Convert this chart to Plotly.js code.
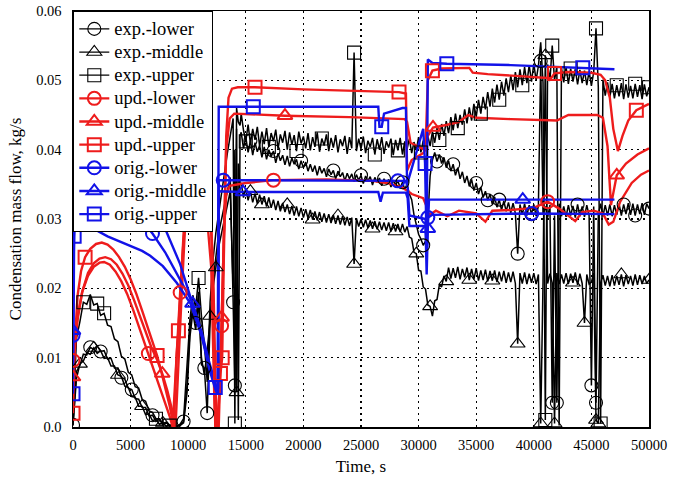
<!DOCTYPE html>
<html><head><meta charset="utf-8">
<script src="https://cdn.plot.ly/plotly-3.0.1.min.js"></script>
<style>html,body{margin:0;padding:0;background:#fff}#chart{width:679px;height:480px}</style>
</head><body><div id="chart"></div><script>
// ---------- experimental data (shared time base) ----------
const tExp = [
 0,300,600,900,1200,1500,1800,2100,2400,2700,3000,3300,3600,3900,4200,4500,4800,5100,5400,5700,6000,6300,6600,6900,7200,7500,7800,8100,8400,8700,9000,9300,9600,
 9900,10150,10400,10650,10900,11150,11400,11650,11900,12150,12400,12650,12900,13150,13400,13650,13900,14050,14200,14350,14500,
 14600,14800,15000,15200,15400,15600,15800,16000,16200,16400,
 16600,16800,17000,17200,17400,17600,17800,18000,18200,18400,
 18600,18800,19000,19200,19400,19600,19800,20000,20200,20400,
 20600,20800,21000,21200,21400,21600,21800,22000,22200,22400,
 22600,22800,23000,23200,23400,23600,23800,24000,24200,24400,
 24600,24800,25000,25200,25400,25600,25800,26000,26200,26400,
 26600,26800,27000,27200,27400,27600,27800,28000,28200,28400,
 28600,28800,29000,29200,29400,29600,29800,30000,30200,30400,
 30600,30800,31000,31200,31400,31600,31800,32000,32200,32400,
 32600,32800,33000,33200,33400,33600,33800,34000,34200,34400,
 34600,34800,35000,35200,35400,35600,35800,36000,36200,36400,
 36600,36800,37000,37200,37400,37600,37800,38000,38200,38400,
 38600,38800,39000,39200,39400,39600,39800,40000,40200,40400,
 40600,40800,41000,41200,41400,41600,41800,42000,42200,42400,
 42600,42800,43000,43200,43400,43600,43800,44000,44200,44400,
 44600,44800,45000,45200,45400,45600,45800,46000,46200,46400,
 46600,46800,47000,47200,47400,47600,47800,48000,48200,48400,
 48600,48800,49000,49200,49400,49600,49800,50000];
const expUpper = [
 0.0005,0.0128,0.0152,0.0180,0.0177,0.0191,0.0176,0.0178,0.0161,0.0164,0.0147,0.0145,0.0127,0.0123,0.0102,0.0098,0.0079,0.0075,0.0058,0.0056,0.0040,0.0037,0.0023,0.0021,0.0012,0.0012,0.0005,0.0007,0.0002,0.0004,0.0001,0.0004,0.0012,
 0.0100,0.0155,0.0190,0.0172,0.0215,0.0160,0.0120,0.0065,0.0180,0.0240,0.0280,0.0310,0.0340,0.0370,0.0395,0.0420,0.0445,0.0005,0.0460,0.0440,0.0435,
 0.0452,0.0428,0.0412,0.0436,0.0409,0.0430,0.0414,0.0433,0.0405,0.0426,
 0.0408,0.0431,0.0404,0.0424,0.0412,0.0429,0.0401,0.0422,0.0410,0.0427,
 0.0400,0.0425,0.0407,0.0421,0.0398,0.0426,0.0409,0.0419,0.0402,0.0424,
 0.0399,0.0418,0.0404,0.0425,0.0397,0.0416,0.0406,0.0422,0.0398,0.0417,
 0.0403,0.0421,0.0396,0.0415,0.0405,0.0420,0.0394,0.0418,0.0402,0.0540,
 0.0398,0.0416,0.0401,0.0419,0.0395,0.0413,0.0404,0.0417,0.0393,0.0415,
 0.0400,0.0418,0.0394,0.0412,0.0403,0.0416,0.0392,0.0414,0.0399,0.0417,
 0.0393,0.0412,0.0401,0.0416,0.0395,0.0411,0.0399,0.0418,0.0396,0.0413,
 0.0402,0.0420,0.0405,0.0426,0.0410,0.0431,0.0414,0.0437,0.0420,0.0441,
 0.0424,0.0447,0.0428,0.0452,0.0431,0.0450,0.0436,0.0458,0.0438,0.0461,
 0.0442,0.0466,0.0447,0.0472,0.0452,0.0476,0.0458,0.0483,0.0462,0.0488,
 0.0468,0.0494,0.0472,0.0498,0.0478,0.0503,0.0483,0.0507,0.0486,0.0512,
 0.0490,0.0516,0.0493,0.0519,0.0496,0.0522,0.0498,0.0524,0.0500,0.0521,
 0.0555,0.0497,0.0010,0.0523,0.0499,0.0550,0.0500,0.0520,0.0002,0.0518,
 0.0497,0.0519,0.0495,0.0517,0.0498,0.0516,0.0494,0.0515,0.0496,0.0514,
 0.0493,0.0513,0.0492,0.0512,0.0575,0.0490,0.0005,0.0501,0.0478,0.0497,
 0.0476,0.0495,0.0474,0.0493,0.0477,0.0496,0.0473,0.0494,0.0475,0.0492,
 0.0474,0.0495,0.0476,0.0493,0.0473,0.0494,0.0477,0.0490];
const expLower = [
 0.0003,0.0080,0.0089,0.0105,0.0104,0.0115,0.0112,0.0117,0.0109,0.0110,0.0098,0.0099,0.0085,0.0085,0.0071,0.0069,0.0056,0.0054,0.0041,0.0040,0.0028,0.0028,0.0016,0.0017,0.0008,0.0011,0.0003,0.0006,0.0001,0.0003,0.0000,0.0003,0.0008,
 0.0060,0.0140,0.0175,0.0150,0.0195,0.0090,0.0085,0.0020,0.0150,0.0210,0.0250,0.0280,0.0300,0.0320,0.0340,0.0360,0.0180,0.0060,0.0430,0.0010,0.0420,
 0.0425,0.0402,0.0418,0.0396,0.0413,0.0392,0.0410,0.0397,0.0406,0.0389,
 0.0404,0.0386,0.0400,0.0390,0.0398,0.0381,0.0395,0.0384,0.0392,0.0378,
 0.0391,0.0376,0.0388,0.0379,0.0386,0.0372,0.0384,0.0374,0.0382,0.0369,
 0.0379,0.0368,0.0377,0.0363,0.0376,0.0366,0.0373,0.0361,0.0372,0.0364,
 0.0370,0.0358,0.0369,0.0361,0.0367,0.0355,0.0366,0.0358,0.0365,0.0354,
 0.0364,0.0356,0.0363,0.0351,0.0362,0.0355,0.0361,0.0349,0.0360,0.0353,
 0.0359,0.0348,0.0358,0.0351,0.0357,0.0346,0.0356,0.0349,0.0355,0.0345,
 0.0353,0.0343,0.0350,0.0336,0.0328,0.0306,0.0292,0.0278,0.0271,0.0262,
 0.0268,0.0300,0.0362,0.0385,0.0396,0.0383,0.0393,0.0380,0.0389,0.0374,
 0.0384,0.0369,0.0379,0.0363,0.0374,0.0358,0.0368,0.0352,0.0362,0.0347,
 0.0357,0.0341,0.0352,0.0336,0.0346,0.0331,0.0340,0.0327,0.0336,0.0321,
 0.0332,0.0317,0.0328,0.0313,0.0326,0.0311,0.0324,0.0309,0.0323,0.0308,
 0.0250,0.0321,0.0306,0.0322,0.0305,0.0320,0.0307,0.0321,0.0304,0.0319,
 0.0528,0.0306,0.0318,0.0302,0.0320,0.0035,0.0305,0.0035,0.0322,0.0304,
 0.0318,0.0303,0.0320,0.0305,0.0319,0.0302,0.0321,0.0304,0.0318,0.0303,
 0.0320,0.0305,0.0060,0.0318,0.0035,0.0306,0.0322,0.0304,0.0320,0.0305,
 0.0321,0.0304,0.0320,0.0306,0.0322,0.0305,0.0321,0.0307,0.0323,0.0306,
 0.0322,0.0305,0.0321,0.0307,0.0323,0.0306,0.0322,0.0315];
const expMiddle = [
 0.0002,0.0070,0.0091,0.0095,0.0107,0.0105,0.0114,0.0106,0.0110,0.0099,0.0100,0.0088,0.0088,0.0075,0.0073,0.0059,0.0057,0.0044,0.0043,0.0030,0.0030,0.0018,0.0019,0.0009,0.0011,0.0004,0.0006,0.0001,0.0003,0.0000,0.0002,0.0002,0.0006,
 0.0050,0.0130,0.0165,0.0140,0.0180,0.0100,0.0075,0.0110,0.0160,0.0200,0.0230,0.0260,0.0280,0.0300,0.0320,0.0340,0.0200,0.0400,0.0050,0.0380,0.0350,
 0.0352,0.0331,0.0344,0.0327,0.0340,0.0324,0.0337,0.0322,0.0335,0.0321,
 0.0333,0.0318,0.0331,0.0316,0.0328,0.0313,0.0326,0.0311,0.0323,0.0310,
 0.0321,0.0307,0.0319,0.0305,0.0318,0.0304,0.0316,0.0302,0.0314,0.0301,
 0.0313,0.0299,0.0311,0.0298,0.0310,0.0296,0.0308,0.0295,0.0307,0.0294,
 0.0306,0.0293,0.0305,0.0292,0.0304,0.0291,0.0303,0.0290,0.0302,0.0235,
 0.0301,0.0289,0.0300,0.0288,0.0299,0.0287,0.0298,0.0286,0.0297,0.0285,
 0.0296,0.0284,0.0295,0.0283,0.0295,0.0282,0.0294,0.0282,0.0293,0.0281,
 0.0293,0.0281,0.0289,0.0274,0.0272,0.0252,0.0250,0.0226,0.0225,0.0202,
 0.0199,0.0176,0.0174,0.0160,0.0182,0.0184,0.0205,0.0202,0.0218,0.0210,
 0.0230,0.0214,0.0229,0.0215,0.0231,0.0213,0.0228,0.0216,0.0230,0.0212,
 0.0228,0.0213,0.0229,0.0211,0.0226,0.0212,0.0227,0.0210,0.0225,0.0211,
 0.0226,0.0209,0.0224,0.0210,0.0225,0.0208,0.0223,0.0209,0.0224,0.0207,
 0.0120,0.0222,0.0207,0.0223,0.0206,0.0221,0.0208,0.0222,0.0206,0.0220,
 0.0005,0.0210,0.0536,0.0207,0.0221,0.0208,0.0005,0.0222,0.0206,0.0220,
 0.0207,0.0222,0.0206,0.0221,0.0208,0.0223,0.0205,0.0221,0.0207,0.0150,
 0.0220,0.0206,0.0209,0.0222,0.0010,0.0005,0.0208,0.0219,0.0204,0.0218,
 0.0203,0.0219,0.0204,0.0218,0.0205,0.0220,0.0203,0.0219,0.0206,0.0218,
 0.0204,0.0220,0.0205,0.0219,0.0206,0.0218,0.0207,0.0212];
const expLowerMarks  = [0,5,8,14,17,23,32,36,39,40,49,50,58,68,80,94,106,116,124,133,139,146,156,161,166,174,180,184,189,191,200,206,208,220,225,231];
const expMiddleMarks = [2,6,13,20,26,41,43,51,58,63,74,85,96,103,111,121,130,136,143,153,163,174,184,186,190,198,203,208,209,219,231];
const expUpperMarks  = [3,7,9,24,28,37,50,56,66,78,89,103,112,122,132,140,148,158,166,176,186,189,197,208,210,217,225,231];

// ---------- updated model ----------
const updUpperT = [0,150,400,700,1050,1500,2000,2500,3000,3500,4000,4500,5000,5500,6000,6500,7000,7300,7600,8000,8400,8750,9000,9150,9400,9700,10000,11000,11800,12100,12350,12550,12800,12950,13100,13300,13500,13800,14300,15800,20000,24000,28300,28900,29000,29400,30400,30600,30700,30800,31200,32000,34400,34700,36000,38000,40000,41500,41800,43000,45000,45800,46200,46600,46900,47300,47700,48200,48900,50000];
const updUpperV = [0.0020,0.0120,0.0190,0.0225,0.0245,0.0257,0.0264,0.0266,0.0263,0.0256,0.0245,0.0231,0.0213,0.0192,0.0168,0.0143,0.0120,0.0103,0.0084,0.0058,0.0030,0.0000,0.0105,0.0139,0.0220,0.0310,0.0360,0.0400,0.0380,0.0250,0.0000,0.0000,0.0077,0.0100,0.0250,0.0420,0.0475,0.0488,0.0490,0.0490,0.0487,0.0485,0.0483,0.0481,0.0370,0.0385,0.0395,0.0400,0.0450,0.0500,0.0514,0.0517,0.0518,0.0511,0.0509,0.0507,0.0504,0.0503,0.0510,0.0512,0.0511,0.0508,0.0500,0.0475,0.0430,0.0398,0.0420,0.0442,0.0457,0.0466];
const updUpperMarks = [0,4,17,23,32,33,39,42,50,58,68];
const updMiddleT = [0,150,400,800,1300,1800,2300,2800,3300,3800,4300,4800,5300,5800,6300,6800,7300,7750,8200,8600,8900,9100,9400,9700,10000,11000,11800,12200,12450,12650,12900,13100,13300,13600,14000,18400,24000,28800,29000,29300,30500,30800,31250,32500,33500,34300,35000,38000,42000,43000,45500,46000,46400,46700,47200,48000,49000,50000];
const updMiddleV = [0.0072,0.0110,0.0155,0.0195,0.0222,0.0236,0.0243,0.0245,0.0242,0.0234,0.0221,0.0204,0.0183,0.0160,0.0136,0.0115,0.0097,0.0077,0.0052,0.0025,0.0000,0.0080,0.0180,0.0280,0.0340,0.0380,0.0360,0.0200,0.0000,0.0000,0.0158,0.0300,0.0400,0.0445,0.0452,0.0449,0.0447,0.0444,0.0440,0.0410,0.0400,0.0420,0.0432,0.0436,0.0440,0.0450,0.0446,0.0444,0.0442,0.0450,0.0450,0.0446,0.0405,0.0320,0.0363,0.0380,0.0393,0.0402];
const updMiddleMarks = [0,17,30,35,42,54];
const updLowerT = [0,150,400,800,1300,1800,2300,2700,3200,3700,4200,4700,5200,5700,6100,6540,7000,7500,8000,8400,8650,8900,9300,9600,9900,10500,11500,12000,12300,12500,12700,12900,13100,13300,13600,15000,17400,22000,26000,27500,28500,29000,29400,30400,30700,30900,31500,32500,33500,35000,35800,36400,38000,40000,41200,42200,43000,43600,44200,45200,46000,46500,46900,47500,48500,49300,50000];
const updLowerV = [0.0096,0.0125,0.0160,0.0195,0.0218,0.0231,0.0237,0.0238,0.0234,0.0224,0.0210,0.0192,0.0170,0.0146,0.0126,0.0106,0.0085,0.0060,0.0035,0.0015,0.0000,0.0080,0.0194,0.0270,0.0320,0.0345,0.0330,0.0230,0.0020,0.0000,0.0050,0.0146,0.0280,0.0335,0.0348,0.0352,0.0356,0.0357,0.0355,0.0351,0.0346,0.0341,0.0336,0.0330,0.0318,0.0305,0.0312,0.0304,0.0312,0.0308,0.0296,0.0312,0.0313,0.0316,0.0325,0.0315,0.0305,0.0297,0.0310,0.0312,0.0308,0.0292,0.0296,0.0325,0.0352,0.0364,0.0370];
const updLowerMarks = [0,15,22,31,36,54];

// ---------- original model ----------
const origUpperT = [0,100,250,600,1200,1800,3000,4500,6000,6700,7800,9000,10200,11200,11800,12350,12550,12600,12650,15650,26500,26600,26800,27000,28600,28900,29000,30400,30560,30700,30800,31200,32450,38000,44250,47000];
const origUpperV = [0.0048,0.0275,0.0330,0.0320,0.0300,0.0286,0.0275,0.0264,0.0254,0.0247,0.0232,0.0208,0.0178,0.0130,0.0090,0.0057,0.0050,0.0300,0.0462,0.0462,0.0462,0.0433,0.0433,0.0452,0.0460,0.0460,0.0350,0.0430,0.0380,0.0260,0.0530,0.0525,0.0524,0.0522,0.0518,0.0516];
const origUpperMarks = [0,1,15,19,22,28,32,34];
const origLowerT = [0,100,250,700,1500,3000,4500,6000,6900,8000,9200,10360,11200,11800,12400,12600,12650,13040,28200,28900,29050,29200,30600,30700,30800,31200,39820,47000];
const origLowerV = [0.0132,0.0300,0.0380,0.0390,0.0380,0.0355,0.0330,0.0298,0.0279,0.0252,0.0215,0.0180,0.0135,0.0095,0.0060,0.0055,0.0356,0.0356,0.0355,0.0355,0.0345,0.0305,0.0300,0.0250,0.0302,0.0306,0.0308,0.0307];
const origLowerMarks = [0,8,17,18,24,26];
const origMiddleT = [0,100,250,800,2000,4000,6000,8000,9300,10370,11200,11800,12400,12600,12650,14750,26500,26700,26900,28900,29050,29200,30600,30700,30800,30900,39040,47000];
const origMiddleV = [0.0139,0.0310,0.0400,0.0420,0.0400,0.0370,0.0335,0.0286,0.0235,0.0178,0.0130,0.0085,0.0052,0.0048,0.0340,0.0339,0.0339,0.0325,0.0338,0.0338,0.0330,0.0290,0.0290,0.0220,0.0286,0.0328,0.0328,0.0328];
const origMiddleMarks = [0,9,15,24,26];

// ---------- axes ----------
const xTicks = [0,5000,10000,15000,20000,25000,30000,35000,40000,45000,50000];
const xTickText = ['0','5000','10000','15000','20000','25000','30000','35000','40000','45000','50000'];
const yTicks = [0,0.01,0.02,0.03,0.04,0.05,0.06];
const yTickText = ['0.0','0.01','0.02','0.03','0.04','0.05','0.06'];

const BLACK = '#000000', RED = 'rgb(238,28,28)', BLUE = 'rgb(18,18,232)';

function lineTrace(x, y, color, w) {
  return {x: x, y: y, type: 'scatter', mode: 'lines', line: {color: color, width: w}, showlegend: false, hoverinfo: 'skip'};
}
function markTrace(name, x, y, idx, color, symbol, lw, ms, mlw) {
  const mx = [], my = [];
  idx.forEach(function (i) { mx.push(x[i], null); my.push(y[i], null); });
  return {x: mx, y: my, type: 'scatter', mode: 'lines+markers',
    name: '<span style="font-size:18.5px">' + name + '</span>', connectgaps: false,
    line: {color: color, width: lw},
    marker: {symbol: symbol, size: ms, color: color, line: {color: color, width: mlw}}, hoverinfo: 'skip'};
}

const traces = [
  lineTrace(tExp, expLower, BLACK, 1.5),
  lineTrace(tExp, expMiddle, BLACK, 1.5),
  lineTrace(tExp, expUpper, BLACK, 1.5),
  lineTrace(updLowerT, updLowerV, RED, 2.4),
  lineTrace(updMiddleT, updMiddleV, RED, 2.4),
  lineTrace(updUpperT, updUpperV, RED, 2.4),
  lineTrace(origLowerT, origLowerV, BLUE, 2.4),
  lineTrace(origMiddleT, origMiddleV, BLUE, 2.4),
  lineTrace(origUpperT, origUpperV, BLUE, 2.4),
  markTrace('exp.-lower', tExp, expLower, expLowerMarks, BLACK, 'circle-open', 1.2, 13, 1.1),
  markTrace('exp.-middle', tExp, expMiddle, expMiddleMarks, BLACK, 'triangle-up-open', 1.2, 13, 1.1),
  markTrace('exp.-upper', tExp, expUpper, expUpperMarks, BLACK, 'square-open', 1.2, 13, 1.1),
  markTrace('upd.-lower', updLowerT, updLowerV, updLowerMarks, RED, 'circle-open', 2.4, 13, 2),
  markTrace('upd.-middle', updMiddleT, updMiddleV, updMiddleMarks, RED, 'triangle-up-open', 2.4, 13, 2),
  markTrace('upd.-upper', updUpperT, updUpperV, updUpperMarks, RED, 'square-open', 2.4, 13, 2),
  markTrace('orig.-lower', origLowerT, origLowerV, origLowerMarks, BLUE, 'circle-open', 2.4, 13, 2),
  markTrace('orig.-middle', origMiddleT, origMiddleV, origMiddleMarks, BLUE, 'triangle-up-open', 2.4, 13, 2),
  markTrace('orig.-upper', origUpperT, origUpperV, origUpperMarks, BLUE, 'square-open', 2.4, 13, 2)
];

const FONT = 'Liberation Serif, Times New Roman, serif';
const axisCommon = {
  showgrid: true, gridcolor: '#000', gridwidth: 1.3, griddash: '2px,4px',
  showline: true, linecolor: '#000', linewidth: 1.5, mirror: true,
  zeroline: false, ticks: '', tickfont: {family: FONT, size: 14.5, color: '#000'}
};
const layout = {
  width: 679, height: 480,
  margin: {l: 73, r: 30, t: 11, b: 53},
  paper_bgcolor: '#fff', plot_bgcolor: '#fff',
  font: {family: FONT, color: '#000', size: 15},
  showlegend: true,
  legend: {x: 0, y: 1, xanchor: 'left', yanchor: 'top', bgcolor: '#fff', bordercolor: '#000', borderwidth: 1.3,
    font: {family: FONT, size: 15.5, color: '#000'}, tracegroupgap: 0},
  xaxis: Object.assign({}, axisCommon, {range: [0, 50000], tickvals: xTicks, ticktext: xTickText, ticklabelstandoff: 4,
    title: {text: 'Time, s', font: {family: FONT, size: 17, color: '#000'}, standoff: 8}}),
  yaxis: Object.assign({}, axisCommon, {range: [0, 0.06], tickvals: yTicks, ticktext: yTickText, ticklabelstandoff: 7,
    title: {text: 'Condensation mass flow, kg/s', font: {family: FONT, size: 17, color: '#000'}, standoff: 10}})
};
Plotly.newPlot('chart', traces, layout, {staticPlot: true, displayModeBar: false});
</script></body></html>
